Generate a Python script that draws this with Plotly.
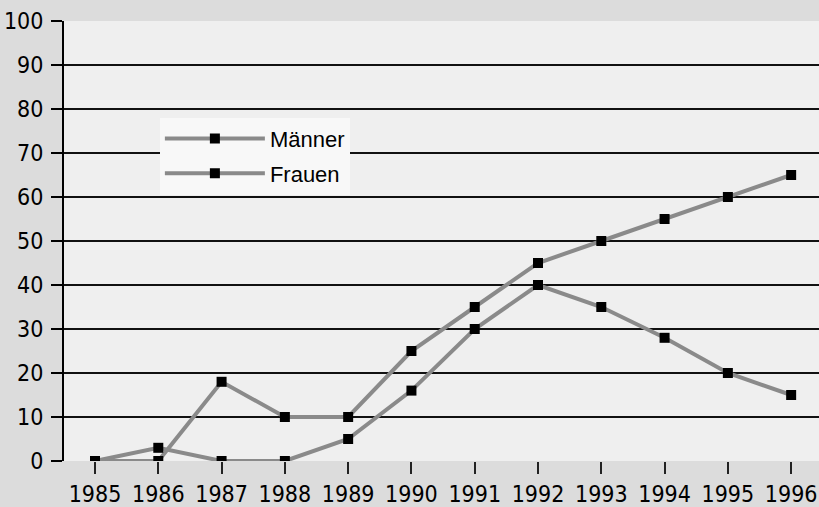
import plotly.graph_objects as go

years = [1985, 1986, 1987, 1988, 1989, 1990, 1991, 1992, 1993, 1994, 1995, 1996]
maenner = [0, 0, 18, 10, 10, 25, 35, 45, 50, 55, 60, 65]
frauen = [0, 3, 0, 0, 5, 16, 30, 40, 35, 28, 20, 15]
y_ticks = [0, 10, 20, 30, 40, 50, 60, 70, 80, 90, 100]

FONT = "DejaVu Sans Condensed, Liberation Sans Narrow, sans-serif"
LFONT = "Liberation Sans, Arial, sans-serif"
line_style = dict(color="#8a8a8a", width=4)
marker_style = dict(symbol="square", size=10, color="black")

fig = go.Figure()
fig.add_trace(go.Scatter(x=years, y=maenner, mode="lines+markers", name="Männer",
                         legendgroup="m", line=line_style, marker=marker_style))
fig.add_trace(go.Scatter(x=years, y=frauen, mode="lines+markers", name="Frauen",
                         legendgroup="f", line=line_style, marker=marker_style))

fig.update_layout(
    width=819, height=507,
    margin=dict(l=64, r=0, t=21, b=44),
    paper_bgcolor="#dcdcdc",
    plot_bgcolor="#efefef",
    font=dict(family=FONT, size=23, color="black"),
    showlegend=True,
    legend=dict(x=0.127, y=0.78, xanchor="left", yanchor="top",
                bgcolor="#f8f8f8", borderwidth=0,
                font=dict(family=LFONT, size=22, color="black"),
                itemwidth=100, tracegroupgap=3),
    xaxis=dict(range=[1984.51, 1996.44], tickmode="array", tickvals=years,
               ticktext=[str(y) for y in years],
               ticks="outside", ticklen=12, tickwidth=1.5, tickcolor="#222",
               showgrid=False, zeroline=False, showline=False,
               tickfont=dict(family=FONT, size=23)),
    yaxis=dict(range=[0, 100], tickmode="array", tickvals=y_ticks,
               ticks="outside", ticklen=11, tickwidth=1.5, tickcolor="black",
               ticklabelstandoff=3,
               showgrid=True, gridcolor="#111", gridwidth=1.5,
               zeroline=False, showline=True, linecolor="black", linewidth=2,
               tickfont=dict(family=FONT, size=23)),
)

fig.write_html("out.html", config={"displayModeBar": False},
               post_script="document.body.style.margin='0';")
